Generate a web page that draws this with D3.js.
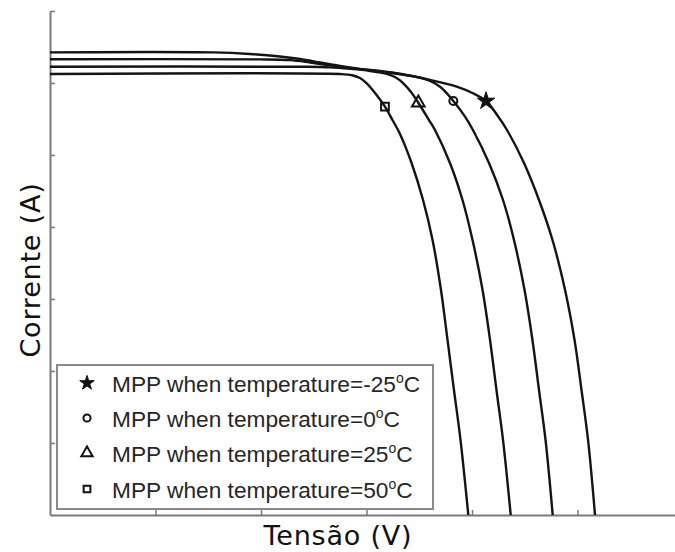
<!DOCTYPE html>
<html>
<head>
<meta charset="utf-8">
<script src="https://cdn.jsdelivr.net/npm/d3@7"></script>
<style>
  html, body { margin: 0; padding: 0; background: #fff; }
  svg { display: block; }
</style>
</head>
<body>
<svg id="chart" width="675" height="552"></svg>
<script>
// ---- data (voltage in V, current in A, arbitrary scale) ----
const voltageTicks = [10, 20, 30, 40, 50, 60];
const currentTicks = [1, 2, 3, 4, 5, 6, 7];

// I-V curve at -25 °C
const curveM25 = [[0,6.426],[15.45,6.425],[18.96,6.403],[21.80,6.368],[23.70,6.333],[25.59,6.285],
  [27.49,6.236],[29.38,6.197],[31.28,6.167],[33.18,6.128],[36.02,6.042],[38.55,5.949],[40.09,5.857],
  [41.33,5.750],[42.38,5.556],[43.32,5.347],[44.93,4.889],[46.35,4.375],[47.63,3.819],[48.82,3.125],
  [49.72,2.431],[50.38,1.736],[51.00,1.042],[51.66,0]];
// I-V curve at 0 °C
const curve0 = [[0,6.329],[19.91,6.328],[22.75,6.317],[24.64,6.285],[26.54,6.246],[28.44,6.208],
  [30.33,6.178],[32.23,6.142],[34.12,6.100],[35.36,6.063],[36.97,5.949],[38.23,5.750],[39.34,5.532],
  [40.09,5.347],[41.61,4.889],[42.94,4.375],[43.98,3.819],[44.98,3.125],[45.73,2.431],[46.35,1.736],
  [46.97,1.042],[47.65,0]];
// I-V curve at 25 °C
const curve25 = [[0,6.226],[24.36,6.225],[26.54,6.217],[28.44,6.196],[30.33,6.167],[31.91,6.128],
  [32.70,6.083],[33.49,5.996],[34.22,5.875],[34.91,5.726],[35.92,5.486],[36.49,5.347],[37.91,4.889],
  [39.10,4.375],[40.05,3.819],[41.00,3.125],[41.71,2.431],[42.32,1.736],[42.94,1.042],[43.67,0]];
// I-V curve at 50 °C
const curve50 = [[0,6.125],[27.49,6.124],[28.63,6.108],[29.38,6.069],[30.02,5.996],[30.81,5.861],
  [31.75,5.671],[32.46,5.486],[33.13,5.306],[34.27,4.889],[35.36,4.375],[36.26,3.819],[37.06,3.125],
  [37.68,2.431],[38.29,1.736],[38.91,1.042],[39.65,0]];

// maximum power points
const mppTemps = ["-25", "0", "25", "50"];
const mppV = [41.33, 38.23, 34.91, 31.75];
const mppI = [5.750, 5.750, 5.726, 5.671];
const mppSymbols = ["star", "circle", "triangle", "square"];

const curves = [curveM25, curve0, curve25, curve50];

// ---- drawing ----
const svg = d3.select("#chart");
const x = d3.scaleLinear().domain([0, 60]).range([50, 683]);
const y = d3.scaleLinear().domain([0, 7]).range([515, 11]);

const axisColor = "#7a7a7a";

// axes (inward ticks, no labels)
const xAxis = d3.axisBottom(x).tickValues(voltageTicks).tickSize(-5).tickSizeOuter(0).tickFormat("");
const yAxis = d3.axisLeft(y).tickValues(currentTicks).tickSize(-5).tickSizeOuter(0).tickFormat("");

const gx = svg.append("g").attr("transform", `translate(0,${y(0)})`).call(xAxis);
const gy = svg.append("g").attr("transform", `translate(${x(0)},0)`).call(yAxis);
[gx, gy].forEach(g => {
  g.select(".domain").attr("stroke", axisColor).attr("stroke-width", 2);
  g.selectAll(".tick line").attr("stroke", axisColor).attr("stroke-width", 1.5);
});

// curves
const line = d3.line()
  .x(d => x(d[0]))
  .y(d => y(d[1]))
  .curve(d3.curveCatmullRom.alpha(0.5));

svg.append("g").selectAll("path.iv")
  .data(curves)
  .join("path")
  .attr("class", "iv")
  .attr("d", line)
  .attr("fill", "none")
  .attr("stroke", "#141414")
  .attr("stroke-width", 2.4);

// marker helpers
const symbolType = { star: d3.symbolStar, circle: d3.symbolCircle, triangle: d3.symbolTriangle, square: d3.symbolSquare };
function drawMarker(g, kind, cx, cy, sizes) {
  const p = g.append("path")
    .attr("d", d3.symbol().type(symbolType[kind]).size(sizes[kind])())
    .attr("transform", `translate(${cx},${cy})`);
  if (kind === "star") {
    p.attr("fill", "#111").attr("stroke", "#111").attr("stroke-width", 1);
  } else {
    p.attr("fill", "none").attr("stroke", "#111").attr("stroke-width", 2);
  }
}
const plotSizes = { star: 95, circle: 50, triangle: 70, square: 60 };
const legendSizes = { star: 65, circle: 40, triangle: 55, square: 45 };

const gm = svg.append("g");
mppV.forEach((v, i) => drawMarker(gm, mppSymbols[i], x(v), y(mppI[i]), plotSizes));

// legend
const lg = svg.append("g");
lg.append("rect")
  .attr("x", 57).attr("y", 365).attr("width", 376).attr("height", 144)
  .attr("fill", "#fff").attr("stroke", "#8a8a8a").attr("stroke-width", 2);

const rowY = [384, 419, 454, 490];
mppTemps.forEach((t, i) => {
  drawMarker(lg, mppSymbols[i], 87, rowY[i] - 1, legendSizes);
  const txt = lg.append("text")
    .attr("x", 112).attr("y", rowY[i] + 8)
    .attr("font-family", "'Liberation Sans', Arial, sans-serif")
    .attr("font-size", 22.7)
    .attr("fill", "#262626");
  txt.append("tspan").text(`MPP when temperature=${t}`);
  txt.append("tspan").attr("dy", -9).attr("font-size", 14).text("o");
  txt.append("tspan").attr("dy", 9).text("C");
});

// axis titles
svg.append("text")
  .attr("x", 338).attr("y", 545)
  .attr("text-anchor", "middle")
  .attr("font-family", "'DejaVu Sans', Verdana, sans-serif")
  .attr("font-size", 27)
  .attr("letter-spacing", 0.8)
  .attr("fill", "#111")
  .text("Tensão (V)");

svg.append("text")
  .attr("transform", "translate(40,270) rotate(-90)")
  .attr("text-anchor", "middle")
  .attr("font-family", "'DejaVu Sans', Verdana, sans-serif")
  .attr("font-size", 27)
  .attr("letter-spacing", 0.8)
  .attr("fill", "#111")
  .text("Corrente (A)");
</script>
</body>
</html>
